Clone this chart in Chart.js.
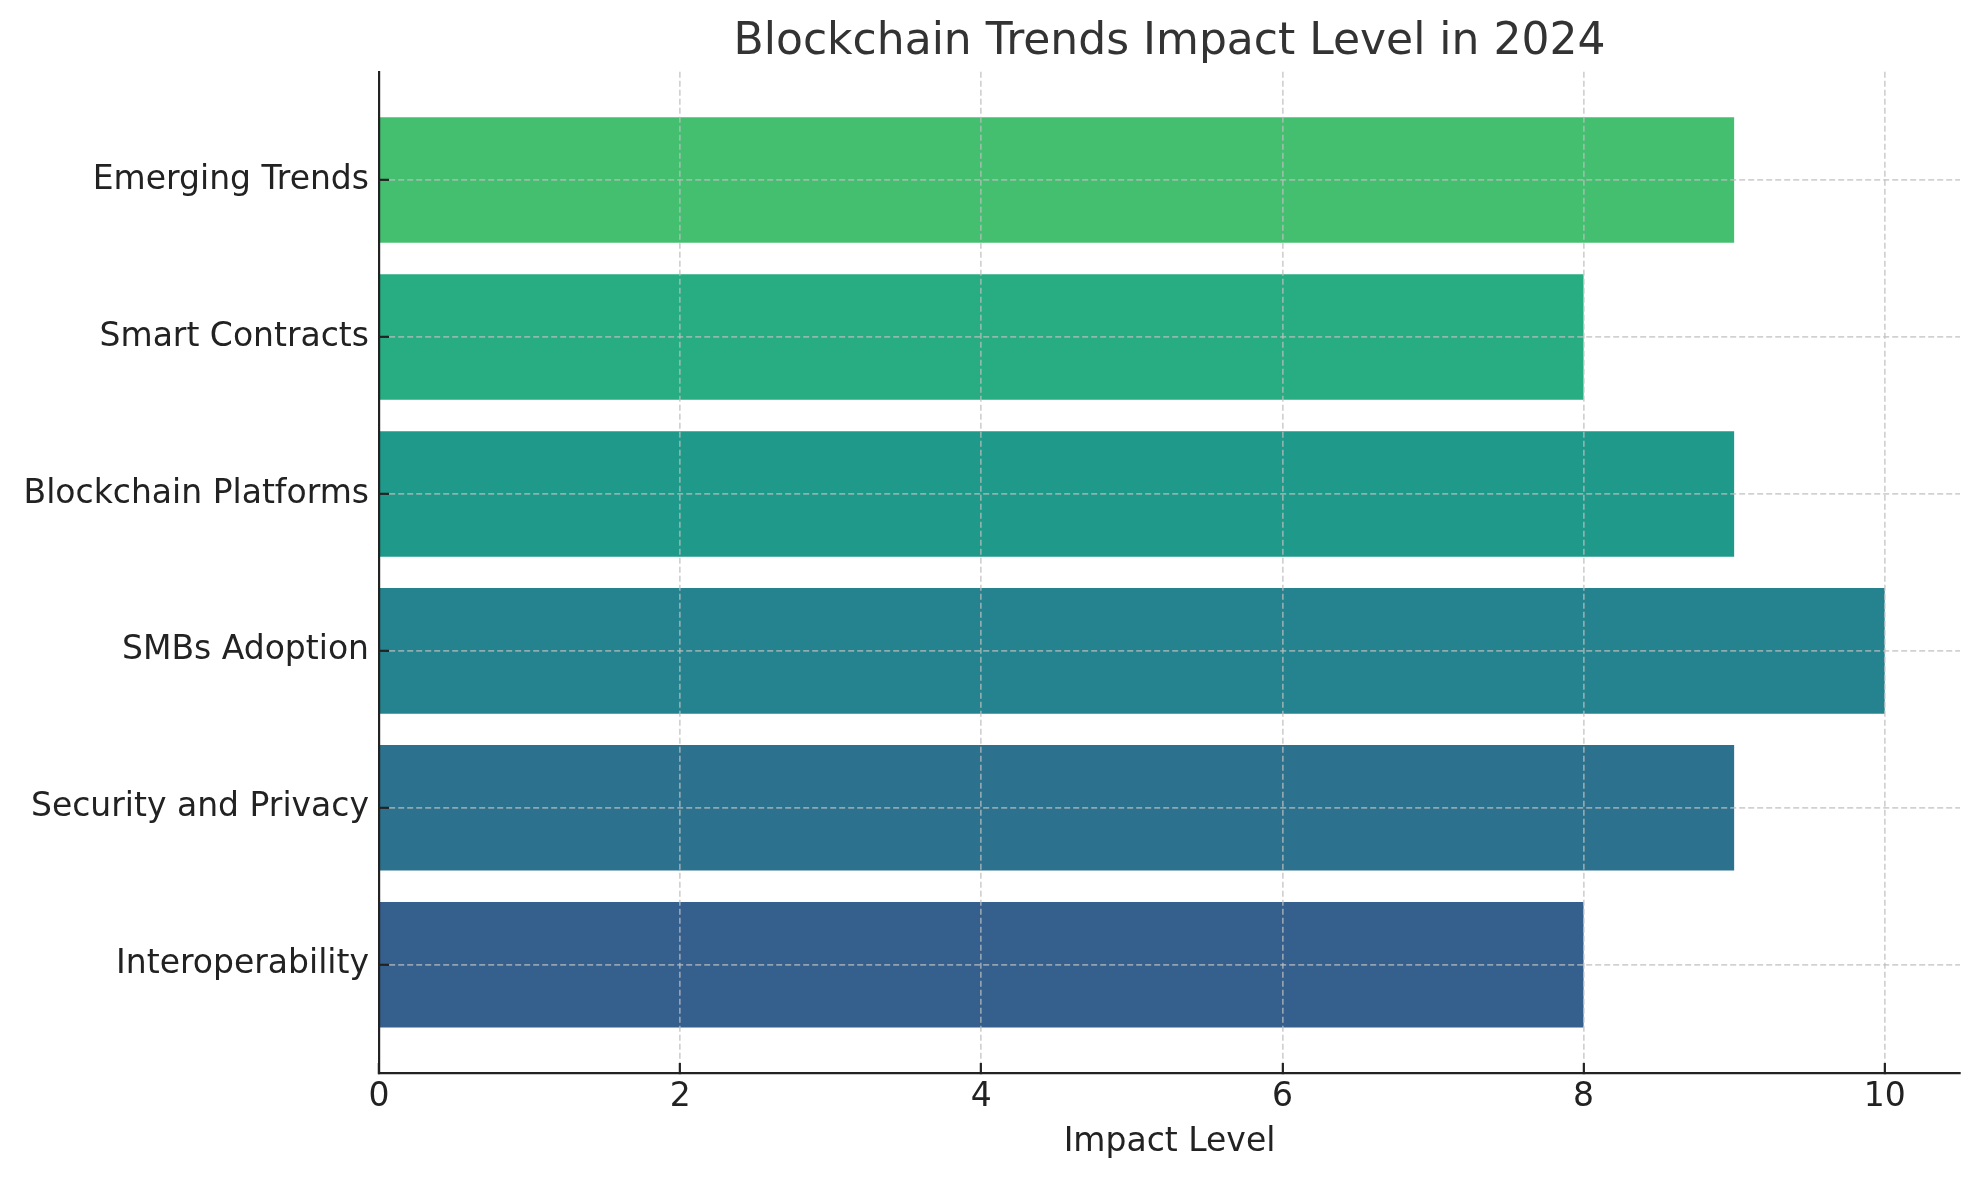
<!DOCTYPE html>
<html>
<head>
<meta charset="utf-8">
<script src="https://cdn.jsdelivr.net/npm/chart.js@4.4.1/dist/chart.umd.min.js"></script>
<style>
  html, body { margin: 0; padding: 0; background: #fff; }
  #wrap { width: 1979px; height: 1180px; }
</style>
</head>
<body>
<div id="wrap"><canvas id="impact_chart"></canvas></div>
<script>
/* Blockchain trends impact, horizontal bars */

var categories = ['Interoperability', 'Security and Privacy', 'SMBs Adoption',
                  'Blockchain Platforms', 'Smart Contracts', 'Emerging Trends'];
var impact = [8, 9, 10, 9, 8, 9];
var xTicks = [0, 2, 4, 6, 8, 10];
var barColors = ['#355f8d', '#2c728e', '#24838e', '#1f9a8a', '#27ad81', '#44bf70'];

var points = categories.map(function (c, i) { return { x: impact[i], y: i }; });

var gridColor = 'rgba(190,190,190,0.7)';
var axisColor = '#222222';
var font = 'DejaVu Sans';

var ctx = document.getElementById('impact_chart').getContext('2d');
var chart = new Chart(ctx, {
    type: 'bar',
    data: {
        datasets: [{
            data: points,
            backgroundColor: barColors,
            borderWidth: 0,
            barPercentage: 0.8,
            categoryPercentage: 1.0
        }]
    },
    options: {
        indexAxis: 'y',
        responsive: true,
        maintainAspectRatio: false,
        devicePixelRatio: 1,
        animation: false,
        layout: { padding: { left: 0, right: 19, top: 0, bottom: 0 } },
        plugins: {
            legend: { display: false },
            tooltip: { enabled: false },
            title: {
                display: true,
                text: 'Blockchain Trends Impact Level in 2024',
                fullSize: false,
                color: '#333333',
                font: { family: font, size: 44, weight: 'normal' },
                padding: { top: 16, bottom: 3 }
            }
        },
        scales: {
            x: {
                type: 'linear',
                min: 0,
                max: 10.5,
                afterBuildTicks: function (scale) {
                    scale.ticks = xTicks.map(function (v) { return { value: v }; });
                },
                afterFit: function (scale) { scale.height = 107; },
                ticks: {
                    z: 2,
                    color: axisColor,
                    padding: 15,
                    font: { family: font, size: 33 }
                },
                grid: {
                    z: 1,
                    color: gridColor,
                    lineWidth: 1.7,
                    tickLength: -10,
                    tickColor: axisColor,
                    tickWidth: 2.2,
                    tickBorderDash: []
                },
                border: { z: 2, color: axisColor, width: 2.2, dash: [6, 3] },
                title: {
                    display: true,
                    text: 'Impact Level',
                    color: axisColor,
                    font: { family: font, size: 33 },
                    padding: { top: 0, bottom: 18 }
                }
            },
            y: {
                type: 'linear',
                min: -0.69,
                max: 5.69,
                offset: false,
                afterBuildTicks: function (scale) {
                    scale.ticks = categories.map(function (c, i) { return { value: i }; });
                },
                afterFit: function (scale) { scale.width = 379; },
                ticks: {
                    z: 2,
                    color: axisColor,
                    padding: 20,
                    font: { family: font, size: 33 },
                    callback: function (v) { return categories[v]; }
                },
                grid: {
                    z: 1,
                    offset: false,
                    color: gridColor,
                    lineWidth: 1.7,
                    tickLength: -10,
                    tickColor: axisColor,
                    tickWidth: 2.2,
                    tickBorderDash: []
                },
                border: { z: 2, color: axisColor, width: 2.2, dash: [6, 3] }
            }
        }
    }
});
</script>
</body>
</html>
